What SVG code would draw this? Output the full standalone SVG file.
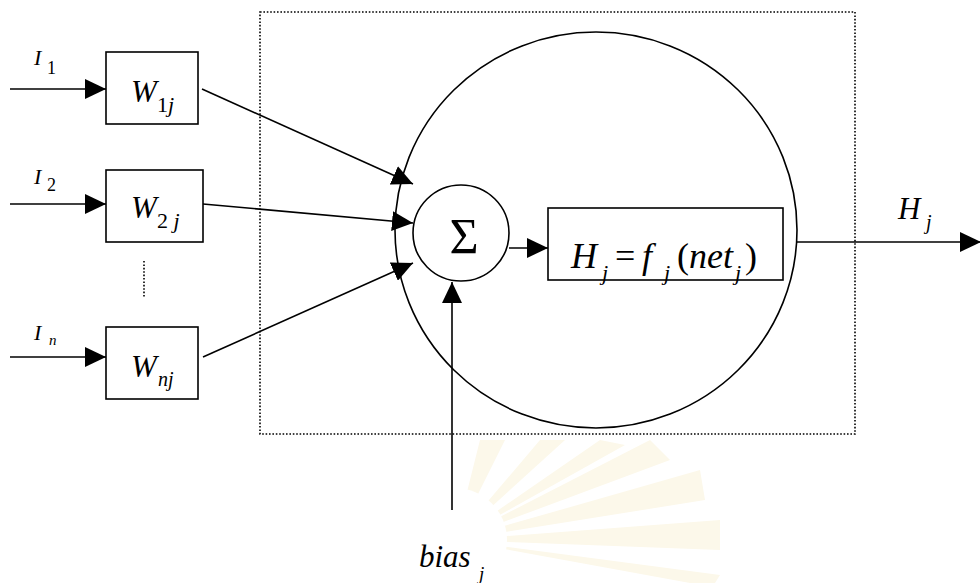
<svg xmlns="http://www.w3.org/2000/svg" width="980" height="583" viewBox="0 0 980 583">
<style>
.ln{stroke:#000;stroke-width:1.6;fill:none}
.bx{stroke:#000;stroke-width:1.6;fill:#fff}
.dot{stroke:#000;stroke-width:1.6;fill:none;stroke-dasharray:1.6 1.8}
.t{font-family:"Liberation Serif","Times New Roman",serif;font-style:italic;fill:#000}
.r{font-family:"Liberation Serif","Times New Roman",serif;font-style:normal;fill:#000}
.wm{fill:#fcf8ea}
</style>
<defs>
<marker id="ah" markerUnits="userSpaceOnUse" markerWidth="21" markerHeight="20" refX="21" refY="10" orient="auto">
<path d="M0,0 L21,10 L0,20 z" fill="#000"/>
</marker>
</defs>
<rect width="980" height="583" fill="#fff"/>
<g id="watermark">
<path class="wm" d="M455,540 L700,470 L705,500 Z"/>
<path class="wm" d="M455,540 L720,520 L720,550 Z"/>
<path class="wm" d="M455,540 L650,440 L670,460 Z"/>
<path class="wm" d="M455,540 L600,440 L625,445 Z"/>
<path class="wm" d="M455,540 L540,440 L565,440 Z"/>
<path class="wm" d="M455,540 L720,575 L715,583 L690,583 Z"/>
<path class="wm" d="M455,540 L480,440 L505,440 Z"/>
<circle cx="455" cy="540" r="52" fill="#fff"/>
</g>
<g id="frame">
<rect class="dot" x="260" y="12" width="595" height="422"/>
</g>
<g id="neuron">
<ellipse class="ln" cx="596" cy="230" rx="201" ry="198"/>
</g>
<g id="w1">
<rect class="bx" x="106" y="52" width="92" height="72"/>
<text class="t" x="131" y="102" font-size="31">W</text>
<text class="r" x="157" y="112" font-size="22">1<tspan class="t">j</tspan></text>
</g>
<g id="w2">
<rect class="bx" x="106" y="170" width="97" height="72"/>
<text class="t" x="131" y="218" font-size="31">W</text>
<text class="r" x="157" y="228" font-size="22">2 <tspan class="t">j</tspan></text>
</g>
<g id="wn">
<rect class="bx" x="106" y="327" width="92" height="72"/>
<text class="t" x="131" y="377" font-size="31">W</text>
<text class="t" x="158" y="386" font-size="20">nj</text>
</g>
<g id="i1">
<text class="t" x="34" y="65" font-size="22">I</text>
<text class="r" x="47" y="74" font-size="18">1</text>
</g>
<g id="i2">
<text class="t" x="34" y="184" font-size="22">I</text>
<text class="r" x="47" y="191" font-size="18">2</text>
</g>
<g id="in">
<text class="t" x="34" y="340" font-size="22">I</text>
<text class="t" x="49" y="345" font-size="15">n</text>
</g>
<g id="sep">
<line class="dot" x1="144" y1="261" x2="144" y2="297" stroke-width="1.2"/>
</g>
<g id="sum">
<circle class="bx" cx="461" cy="233" r="48"/>
<text class="r" x="464" y="253" font-size="50" text-anchor="middle">Σ</text>
</g>
<g id="act">
<rect class="bx" x="548" y="208" width="235" height="72"/>
<text class="t" x="571" y="268" font-size="36">H</text>
<text class="t" x="602" y="280" font-size="22">j</text>
<text class="r" x="615" y="268" font-size="36">=</text>
<text class="t" x="642" y="268" font-size="36">f</text>
<text class="t" x="664" y="280" font-size="22">j</text>
<text class="r" x="677" y="268" font-size="36">(</text>
<text class="t" x="689" y="268" font-size="36">net</text>
<text class="t" x="735" y="280" font-size="22">j</text>
<text class="r" x="745" y="268" font-size="36">)</text>
</g>
<g id="out">
<text class="t" x="898" y="219" font-size="31">H</text>
<text class="t" x="926" y="229" font-size="20">j</text>
</g>
<g id="bias">
<text class="t" x="419" y="567" font-size="31">bias</text>
<text class="t" x="479" y="580" font-size="19">j</text>
</g>
<g id="connectors">
<line class="ln" x1="10" y1="89" x2="106" y2="89" marker-end="url(#ah)"/>
<line class="ln" x1="10" y1="204" x2="106" y2="204" marker-end="url(#ah)"/>
<line class="ln" x1="10" y1="357" x2="106" y2="357" marker-end="url(#ah)"/>
<line class="ln" x1="202" y1="89" x2="413" y2="184" marker-end="url(#ah)"/>
<line class="ln" x1="203" y1="204" x2="413" y2="223" marker-end="url(#ah)"/>
<line class="ln" x1="203" y1="357" x2="413" y2="263" marker-end="url(#ah)"/>
<line class="ln" x1="509" y1="248" x2="548" y2="248" marker-end="url(#ah)"/>
<line class="ln" x1="452" y1="510" x2="452" y2="282" marker-end="url(#ah)"/>
<line class="ln" x1="797" y1="242" x2="981" y2="242" marker-end="url(#ah)"/>
</g>
</svg>
